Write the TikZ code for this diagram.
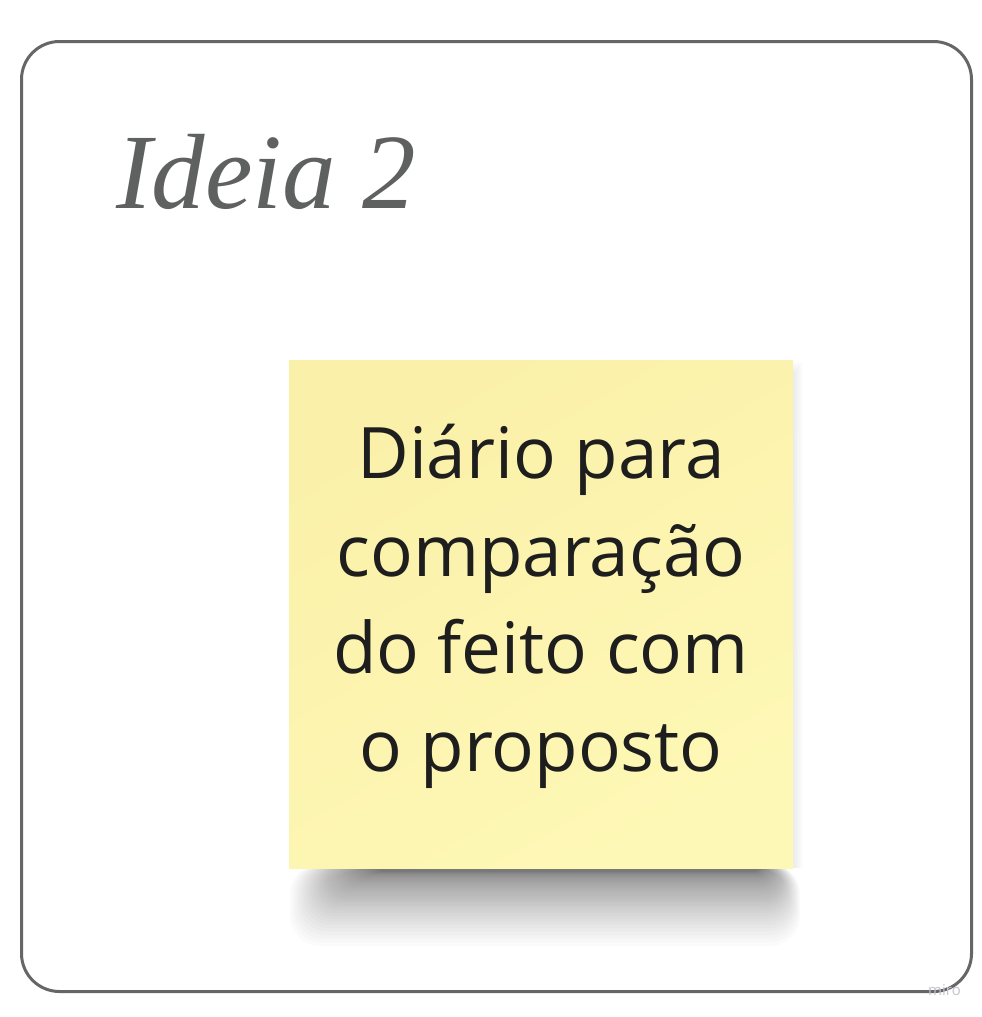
\documentclass[tikz,border=0pt]{standalone}
\usepackage{fontspec}
\setmainfont{Open Sans}
\newfontfamily\titlefont{Liberation Serif}
\definecolor{framegray}{HTML}{666666}
\definecolor{titlegray}{HTML}{5F6060}
\definecolor{noteA}{HTML}{FAF0A9}
\definecolor{noteB}{HTML}{FEF8B6}
\definecolor{notetext}{HTML}{1E1E1E}
\definecolor{wmgray}{HTML}{C4C4CC}
\tikzset{
  frame/.style={draw=framegray, line width=3pt, rounded corners=38pt},
  notetxt/.style={font=\fontsize{71}{97.5}\selectfont, text=notetext, align=center, inner sep=0pt},
  titletxt/.style={font=\titlefont\itshape\fontsize{107}{110}\selectfont, text=titlegray, inner sep=0pt},
}
\begin{document}
\begin{tikzpicture}[x=1pt,y=-1pt]
\useasboundingbox (0,0) rectangle (982,1017);
\fill[white] (0,0) rectangle (982,1017);
\node[frame, minimum width=950pt, minimum height=950pt, anchor=north west] (frame) at (20,40) {};
\node[titletxt, anchor=base west] (title) at (116,208) {Ideia 2};
% shadow
\foreach \i in {0,...,39} {
  \pgfmathsetmacro{\t}{\i/39}
  \fill[black, opacity=0.017, rounded corners={4pt+26pt*\t}]
    ({380-90*\t}, 864) rectangle ({758+42*\t}, {872+74*\t*\t});
}
\foreach \i in {0,...,5} {
  \fill[black, opacity=0.01] (785, {372-2*\i}) rectangle ({795+1.5*\i}, 868);
}
\shade[left color=noteA, right color=noteB, shading angle=30] (289,360) rectangle (793,868);
\node[notetxt, anchor=base] (note) at (541,771) {Diário para\\comparação\\do feito com\\o proposto};
\node[font=\fontsize{15}{15}\selectfont, text=wmgray, anchor=base west, inner sep=0pt] (wm) at (928,995) {miro};
\end{tikzpicture}
\end{document}
